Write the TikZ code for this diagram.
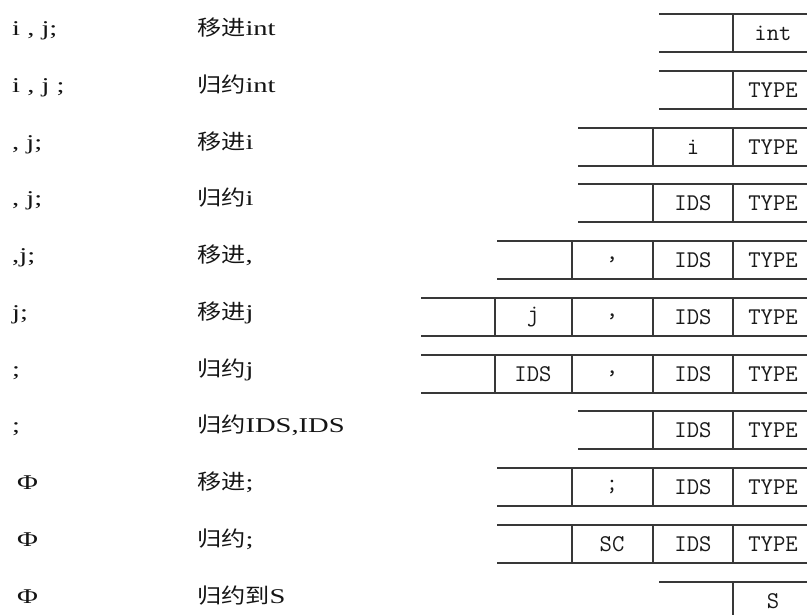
\documentclass[tikz,border=0pt]{standalone}
\usepackage{fontspec}
\setmainfont{Liberation Serif}[FakeStretch=1.36]
\newfontfamily\cjk{Noto Sans CJK SC}[FakeStretch=1.15]
\newcommand\stk[3]{%
  \draw[frame] (#2,#1) -- (820,#1) (#2,#1+38) -- (820,#1+38);
  \foreach \vx in {#3} \draw[frame] (\vx,#1) -- (\vx,#1+38);}
\begin{document}
\begin{tikzpicture}[x=1pt,y=-1pt,
  frame/.style={line width=1.8pt, draw=black!78},
  lbl/.style={anchor=base west, inner sep=0pt, font=\fontsize{21}{24}\selectfont, text=black!92},
  cell/.style={inner sep=0pt, font=\ttfamily\fontsize{24}{24}\selectfont, text=black!90}]
\useasboundingbox (0,0) rectangle (807,614);
\clip (0,0) rectangle (807,614);
% stacks
\stk{14}{659}{733}
\stk{71}{659}{733}
\stk{128}{578}{653,733}
\stk{184}{578}{653,733}
\stk{241}{497}{572,653,733}
\stk{298}{421}{495,572,653,733}
\stk{355}{421}{495,572,653,733}
\stk{411}{578}{653,733}
\stk{468}{497}{572,653,733}
\stk{525}{497}{572,653,733}
\stk{582}{659}{733}
% cell contents
\node[cell] (a1) at (773,33) {int};
\node[cell] (a2) at (773,90) {TYPE};
\node[cell] (a3) at (773,147) {TYPE};
\node[cell] (b3) at (693,147) {i};
\node[cell] (a4) at (773,203) {TYPE};
\node[cell] (b4) at (693,203) {IDS};
\node[cell] (a5) at (773,260) {TYPE};
\node[cell] (b5) at (693,260) {IDS};
\node[cell] (c5) at (612,260) {,};
\node[cell] (a6) at (773,317) {TYPE};
\node[cell] (b6) at (693,317) {IDS};
\node[cell] (c6) at (612,317) {,};
\node[cell] (d6) at (533,317) {j};
\node[cell] (a7) at (773,374) {TYPE};
\node[cell] (b7) at (693,374) {IDS};
\node[cell] (c7) at (612,374) {,};
\node[cell] (d7) at (533,374) {IDS};
\node[cell] (a8) at (773,430) {TYPE};
\node[cell] (b8) at (693,430) {IDS};
\node[cell] (a9) at (773,487) {TYPE};
\node[cell] (b9) at (693,487) {IDS};
\node[cell] (c9) at (612,487) {;};
\node[cell] (a10) at (773,544) {TYPE};
\node[cell] (b10) at (693,544) {IDS};
\node[cell] (c10) at (612,544) {SC};
\node[cell] (a11) at (773,601) {S};
% input column
\node[lbl] (in1) at (12,35) {i , j;};
\node[lbl] (in2) at (12,92) {i , j ;};
\node[lbl] (in3) at (12,149) {, j;};
\node[lbl] (in4) at (12,205) {, j;};
\node[lbl] (in5) at (12,262) {,j;};
\node[lbl] (in6) at (12,319) {j;};
\node[lbl] (in7) at (12,376) {;};
\node[lbl] (in8) at (12,432) {;};
\node[lbl] (in9) at (17,489) {Φ};
\node[lbl] (in10) at (17,546) {Φ};
\node[lbl] (in11) at (17,603) {Φ};
% action column
\node[lbl] (ac1) at (197,35) {{\cjk 移进}int};
\node[lbl] (ac2) at (197,92) {{\cjk 归约}int};
\node[lbl] (ac3) at (197,149) {{\cjk 移进}i};
\node[lbl] (ac4) at (197,205) {{\cjk 归约}i};
\node[lbl] (ac5) at (197,262) {{\cjk 移进},};
\node[lbl] (ac6) at (197,319) {{\cjk 移进}j};
\node[lbl] (ac7) at (197,376) {{\cjk 归约}j};
\node[lbl] (ac8) at (197,432) {{\cjk 归约}IDS,IDS};
\node[lbl] (ac9) at (197,489) {{\cjk 移进};};
\node[lbl] (ac10) at (197,546) {{\cjk 归约};};
\node[lbl] (ac11) at (197,603) {{\cjk 归约到}S};
\end{tikzpicture}
\end{document}
